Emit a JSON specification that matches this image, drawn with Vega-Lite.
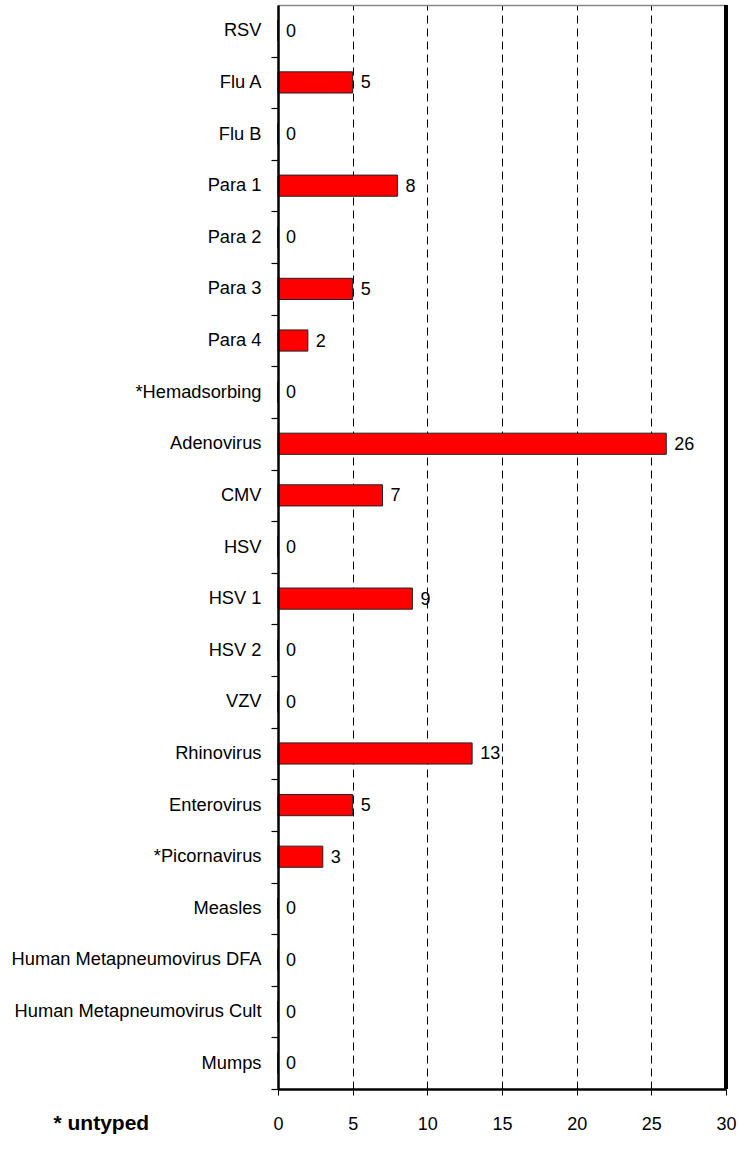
{
  "$schema": "https://vega.github.io/schema/vega-lite/v6.json",
  "autosize": "none",
  "width": 448,
  "height": 1084,
  "padding": {"left": 278, "top": 5, "right": 13, "bottom": 65},
  "background": "white",
  "config": {
    "font": "Liberation Sans",
    "view": {"stroke": null}
  },
  "data": {
    "values": [
      {"virus": "RSV", "count": 0},
      {"virus": "Flu A", "count": 5},
      {"virus": "Flu B", "count": 0},
      {"virus": "Para 1", "count": 8},
      {"virus": "Para 2", "count": 0},
      {"virus": "Para 3", "count": 5},
      {"virus": "Para 4", "count": 2},
      {"virus": "*Hemadsorbing", "count": 0},
      {"virus": "Adenovirus", "count": 26},
      {"virus": "CMV", "count": 7},
      {"virus": "HSV", "count": 0},
      {"virus": "HSV 1", "count": 9},
      {"virus": "HSV 2", "count": 0},
      {"virus": "VZV", "count": 0},
      {"virus": "Rhinovirus", "count": 13},
      {"virus": "Enterovirus", "count": 5},
      {"virus": "*Picornavirus", "count": 3},
      {"virus": "Measles", "count": 0},
      {"virus": "Human Metapneumovirus DFA", "count": 0},
      {"virus": "Human Metapneumovirus Cult", "count": 0},
      {"virus": "Mumps", "count": 0}
    ]
  },
  "encoding": {
    "y": {
      "field": "virus",
      "type": "nominal",
      "sort": null,
      "scale": {"paddingInner": 0.59, "paddingOuter": 0.295},
      "axis": {
        "title": null,
        "labelFontSize": 18.3,
        "labelColor": "#000000",
        "labelPadding": 10,
        "labelLimit": 400,
        "labelOffset": -25.8,
        "domain": true,
        "domainColor": "#000000",
        "domainWidth": 2.5,
        "ticks": true,
        "tickColor": "#000000",
        "tickSize": 7,
        "tickWidth": 1.2,
        "tickOffset": 25.8,
        "zindex": 1
      }
    }
  },
  "resolve": {"axis": {"x": "independent"}},
  "layer": [
    {
      "mark": {"type": "bar", "color": "#FF0000", "stroke": "#222222", "strokeWidth": 1},
      "encoding": {
        "x": {
          "field": "count",
          "type": "quantitative",
          "scale": {"domain": [0, 30], "nice": false},
          "axis": {
            "orient": "bottom",
            "values": [0, 5, 10, 15, 20, 25, 30],
            "title": "* untyped",
            "titleFontSize": 21,
            "titleFontWeight": "bold",
            "titleColor": "#000000",
            "titleX": -225,
            "titleY": 40,
            "titleAlign": "left",
            "titleBaseline": "alphabetic",
            "labelFontSize": 18,
            "labelColor": "#000000",
            "labelBaseline": "alphabetic",
            "labelPadding": 34,
            "labelFlush": false,
            "domainColor": "#000000",
            "domainWidth": 2.5,
            "tickColor": "#000000",
            "tickSize": 6,
            "grid": true,
            "gridColor": "#000000",
            "gridWidth": 1,
            "gridDash": [8, 5],
            "zindex": 0
          }
        }
      }
    },
    {
      "mark": {"type": "text", "align": "left", "baseline": "middle", "dx": 8, "dy": 1, "fontSize": 18, "color": "#000000"},
      "encoding": {
        "x": {"field": "count", "type": "quantitative", "axis": null},
        "text": {"field": "count", "type": "quantitative"}
      }
    },
    {
      "mark": {"type": "rule", "color": "#000000", "strokeWidth": 3},
      "encoding": {
        "x": {
          "datum": 30,
          "type": "quantitative",
          "axis": {
            "orient": "top",
            "labels": false,
            "ticks": false,
            "grid": false,
            "title": null,
            "domainColor": "#888888",
            "domainWidth": 1.5
          }
        },
        "y": null
      }
    }
  ]
}
